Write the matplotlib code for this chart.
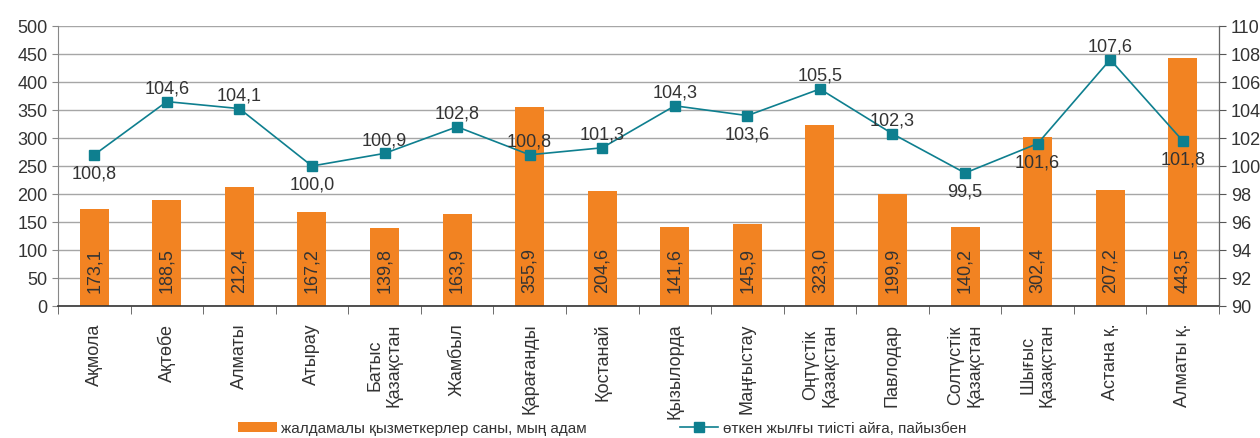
import matplotlib
matplotlib.use("Agg")
import numpy as np
from matplotlib import pyplot as plt
from matplotlib import font_manager

regions = ["Ақмола", "Ақтөбе", "Алматы", "Атырау", "Батыс\nҚазақстан", "Жамбыл",
           "Қарағанды", "Қостанай", "Қызылорда", "Маңғыстау", "Оңтүстік\nҚазақстан",
           "Павлодар", "Солтүстік\nҚазақстан", "Шығыс\nҚазақстан", "Астана қ.", "Алматы қ."]
workers = [173.1, 188.5, 212.4, 167.2, 139.8, 163.9, 355.9, 204.6,
           141.6, 145.9, 323.0, 199.9, 140.2, 302.4, 207.2, 443.5]
index_pct = [100.8, 104.6, 104.1, 100.0, 100.9, 102.8, 100.8, 101.3,
             104.3, 103.6, 105.5, 102.3, 99.5, 101.6, 107.6, 101.8]
bar_label = "жалдамалы қызметкерлер саны, мың адам"
line_label = "өткен жылғы тиісті айға, пайызбен"

# where each line label sits relative to its marker
label_side = ["below", "above", "above", "below", "above", "above", "above", "above",
              "above", "below", "above", "above", "below", "below", "above", "below"]

names = [f.name for f in font_manager.fontManager.ttflist]
family = ["Liberation Sans Narrow", "Liberation Sans", "DejaVu Sans"]
family = [f for f in family if f in names] or ["DejaVu Sans"]
plt.rcParams["font.family"] = family

orange = "#F28322"
teal = "#0E7F8F"
text_col = "#333333"

fig = plt.figure(figsize=(12.6, 4.39), dpi=100)
ax = fig.add_axes([0.046, 0.3007, 0.9215, 0.6378])
ax2 = ax.twinx()

x = np.arange(len(regions))
bars = ax.bar(x, workers, width=0.4, color=orange, zorder=2, label=bar_label)
for xi, v in zip(x, workers):
    ax.annotate(f"{v:.1f}".replace(".", ","), xy=(xi, 0), xytext=(0, 10),
                textcoords="offset points", rotation=90, ha="center", va="bottom",
                fontsize=13, color=text_col, zorder=3)

ax.set_xlim(-0.5, len(regions) - 0.5)
ax.set_ylim(0, 500)
ax.set_yticks(np.arange(0, 501, 50))
ax.yaxis.grid(True, color="#A6A6A6", linewidth=1)
ax.set_axisbelow(True)
ax.set_xticks(x)
ax.set_xticklabels(regions, rotation=90, fontsize=13, color=text_col,
                   ha="center", va="top", multialignment="center")
ax.set_xticks(np.arange(-0.5, len(regions), 1), minor=True)
ax.tick_params(axis="x", which="major", length=0, pad=12)
ax.tick_params(axis="x", which="minor", length=6, color="#555555")
ax.tick_params(axis="y", labelsize=13, labelcolor=text_col, length=4, color="#888888")
ax.spines["top"].set_visible(False)
ax.spines["left"].set_color("#888888")
ax.spines["bottom"].set_color("#333333")
ax.spines["bottom"].set_linewidth(1.2)

line, = ax2.plot(x, index_pct, color=teal, linewidth=1.2, marker="s", markersize=7,
                 zorder=4, label=line_label)
for xi, v, side in zip(x, index_pct, label_side):
    off = 10 if side == "above" else -13
    ax2.annotate(f"{v:.1f}".replace(".", ","), xy=(xi, v), xytext=(0, off),
                 textcoords="offset points", ha="center", va="center",
                 fontsize=13, color=text_col, zorder=5)
ax2.set_ylim(90, 110)
ax2.set_yticks(np.arange(90, 111, 2))
ax2.tick_params(axis="y", labelsize=13, labelcolor=text_col, length=5, color="#555555")
ax2.spines["top"].set_visible(False)
ax2.spines["left"].set_visible(False)
ax2.spines["bottom"].set_visible(False)
ax2.spines["right"].set_color("#666666")

fig.legend(handles=[bars, line], labels=[bar_label, line_label], loc="center",
           bbox_to_anchor=(0.478, 0.022), ncol=2, frameon=False, fontsize=11,
           columnspacing=6.1, handlelength=2.5, handletextpad=0.3, labelcolor=text_col)

fig.savefig("out.png", dpi=100)
